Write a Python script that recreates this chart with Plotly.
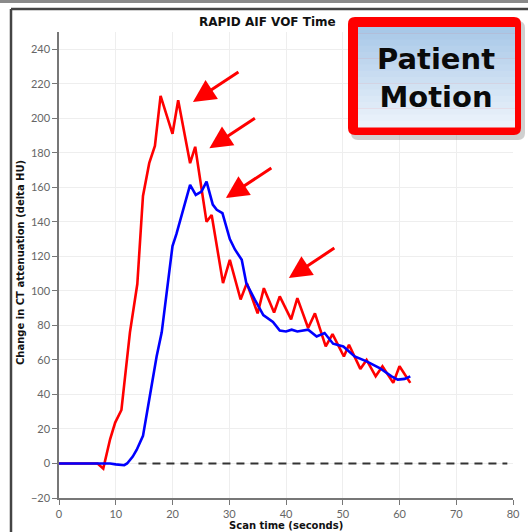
import plotly.graph_objects as go

# ---------------- data ----------------
aif_time = [0, 6.8, 7.8, 9.0, 9.9, 11.0, 12.5, 13.8, 14.6, 14.8, 15.9, 16.9, 17.9, 20.0, 21.0,
            23.1, 24.0, 26.0, 26.9, 28.9, 30.1, 32.0, 33.1, 35.0, 36.1, 37.9, 38.9, 40.9,
            42.0, 43.9, 45.1, 47.0, 48.2, 50.2, 51.1, 53.1, 54.2, 55.8, 57.0, 58.9, 60.0, 61.9]
aif_hu = [0, 0, -3, 14, 23.7, 31, 76, 104, 145, 155, 174, 184, 213, 191, 210.5,
          174, 183.5, 140, 144, 104.5, 118, 95, 104.5, 87, 101.6, 87.5, 96.8, 83.5,
          95.8, 78.5, 87, 67.8, 75, 62, 68.8, 54.8, 60, 50.5, 56.3, 46.7, 56.3, 46.7]

vof_time = [0, 9, 10, 11.5, 12, 13, 13.7, 14.8, 16.0, 17.2, 18.1, 19.0, 20.0, 20.7, 21.9,
            23.1, 24.1, 25.1, 26.0, 27.1, 27.8, 28.8, 30.1, 31.0, 32.2, 33.0, 34.5, 36.0,
            37.7, 38.9, 40.0, 41.0, 42.0, 43.9, 45.4, 46.8, 48.3, 50.1, 52.1, 54.2, 56.5,
            58.6, 59.7, 60.9, 61.9]
vof_hu = [0, 0, -0.5, -1, 0, 4, 8, 16, 39, 62, 76, 99, 126, 133, 147,
          161.4, 155.6, 157.5, 163.3, 150, 147, 145, 130, 124, 118, 104.5, 95, 86,
          82, 77, 76.5, 77.5, 76.5, 77.5, 73.6, 75.6, 69.4, 67.8, 62, 59.2, 55.3,
          50.5, 48.6, 49, 50.5]

baseline_time = [14, 79]
baseline_hu = [0, 0]

# motion-artifact arrow tips (data coords)
arrow_x = [23.6, 26.5, 29.4, 40.5]
arrow_y = [209.5, 182.6, 153.8, 107.4]

x_ticks = [0, 10, 20, 30, 40, 50, 60, 70, 80]
y_ticks = [-20, 0, 20, 40, 60, 80, 100, 120, 140, 160, 180, 200, 220, 240]

title_text = "RAPID AIF VOF Time"
x_title = "Scan time (seconds)"
y_title = "Change in CT attenuation (delta HU)"
box_text = "Patient<br>Motion"

# ---------------- layout helpers (pixel -> paper) ----------------
W, H = 528, 532
ML, MR, MT, MB = 59, 15, 32, 34
PW, PH = W - ML - MR, H - MT - MB


def px(x):
    return (x - ML) / PW


def py(y):
    return (H - MB - y) / PH


fig = go.Figure()

fig.add_trace(go.Scatter(x=baseline_time, y=baseline_hu, mode="lines",
                         line=dict(color="#333333", width=2.2, dash="8px,6px"),
                         hoverinfo="skip"))
fig.add_trace(go.Scatter(x=aif_time, y=aif_hu, mode="lines",
                         line=dict(color="#ff0000", width=2.6), name="AIF"))
fig.add_trace(go.Scatter(x=vof_time, y=vof_hu, mode="lines",
                         line=dict(color="#0000ff", width=2.6), name="VOF"))

annotations = []
for ax_, ay_ in zip(arrow_x, arrow_y):
    annotations.append(dict(x=ax_, y=ay_, xref="x", yref="y", text="", showarrow=True,
                            arrowhead=2, arrowsize=1.5, arrowwidth=3, arrowcolor="#ff0000",
                            ax=47, ay=-31))

TITLE_FONT = "DejaVu Sans"
annotations.append(dict(x=px(267), y=py(22), xref="paper", yref="paper", text=title_text,
                        showarrow=False, xanchor="center", yanchor="middle",
                        font=dict(family=TITLE_FONT, size=12, color="#111111", weight="bold")))
annotations.append(dict(x=px(286), y=py(525), xref="paper", yref="paper", text=x_title,
                        showarrow=False, xanchor="center", yanchor="middle",
                        font=dict(family=TITLE_FONT, size=10, color="#111111", weight="bold")))
annotations.append(dict(x=px(20), y=py(263), xref="paper", yref="paper", text=y_title,
                        showarrow=False, xanchor="center", yanchor="middle", textangle=-90,
                        font=dict(family=TITLE_FONT, size=10, color="#111111", weight="bold")))

annotations.append(dict(x=px(436), y=py(78), xref="paper", yref="paper", text=box_text,
                        showarrow=False, xanchor="center", yanchor="middle",
                        font=dict(family=TITLE_FONT, size=29, color="#0a0a0a", weight="bold")))

shapes = []
# outer page frame
shapes.append(dict(type="line", xref="paper", yref="paper", x0=px(0), x1=px(W), y0=py(1.5), y1=py(1.5),
                   line=dict(color="#8a8a8a", width=3), layer="above"))
shapes.append(dict(type="line", xref="paper", yref="paper", x0=px(11), x1=px(W), y0=py(9), y1=py(9),
                   line=dict(color="#444444", width=2.5), layer="above"))
shapes.append(dict(type="line", xref="paper", yref="paper", x0=px(11), x1=px(11), y0=py(9), y1=py(H),
                   line=dict(color="#444444", width=2.5), layer="above"))


def rounded(x0, y0, x1, y1, r):
    rx, ry = r / PW, r / PH
    a, b, c, d = px(x0), px(x1), py(y1), py(y0)  # a left, b right, c bottom, d top
    return (f"M {a+rx},{d} L {b-rx},{d} Q {b},{d} {b},{d-ry} L {b},{c+ry} Q {b},{c} {b-rx},{c} "
            f"L {a+rx},{c} Q {a},{c} {a},{c+ry} L {a},{d-ry} Q {a},{d} {a+rx},{d} Z")


# shadow
shapes.append(dict(type="path", xref="paper", yref="paper", path=rounded(351, 21, 525, 140, 7),
                   fillcolor="rgba(120,120,120,0.35)", line=dict(width=0), layer="above"))
# red frame
shapes.append(dict(type="path", xref="paper", yref="paper", path=rounded(348, 17, 521, 135, 7),
                   fillcolor="#ff0000", line=dict(width=0), layer="above"))
# gradient fill inside
top = (168, 200, 232)
bot = (236, 243, 251)
n = 16
y_start, y_end = 27, 127
for i in range(n):
    t = i / (n - 1)
    col = tuple(int(round(top[k] + (bot[k] - top[k]) * t)) for k in range(3))
    ya = y_start + (y_end - y_start) * i / n
    yb = y_start + (y_end - y_start) * (i + 1) / n
    shapes.append(dict(type="rect", xref="paper", yref="paper", x0=px(358), x1=px(515),
                       y0=py(yb + 0.5), y1=py(ya), fillcolor="rgb(%d,%d,%d)" % col,
                       line=dict(width=0), layer="above"))

axis_common = dict(showgrid=True, gridcolor="#eeeeee", gridwidth=1, automargin=False,
                   zeroline=False, showline=True, linecolor="#777777", linewidth=1.5,
                   ticks="outside", ticklen=5, tickcolor="#777777",
                   tickfont=dict(family="Lato", size=11, color="#666666"))

fig.update_layout(
    width=W, height=H,
    margin=dict(l=ML, r=MR, t=MT, b=MB),
    paper_bgcolor="white", plot_bgcolor="white",
    showlegend=False,
    annotations=annotations,
    shapes=shapes,
    xaxis=dict(range=[0, 80], tickvals=x_ticks, ticklabelstandoff=0, **axis_common),
    yaxis=dict(range=[-20, 250], tickvals=y_ticks, **axis_common),
)

fig.write_html("out.html")
